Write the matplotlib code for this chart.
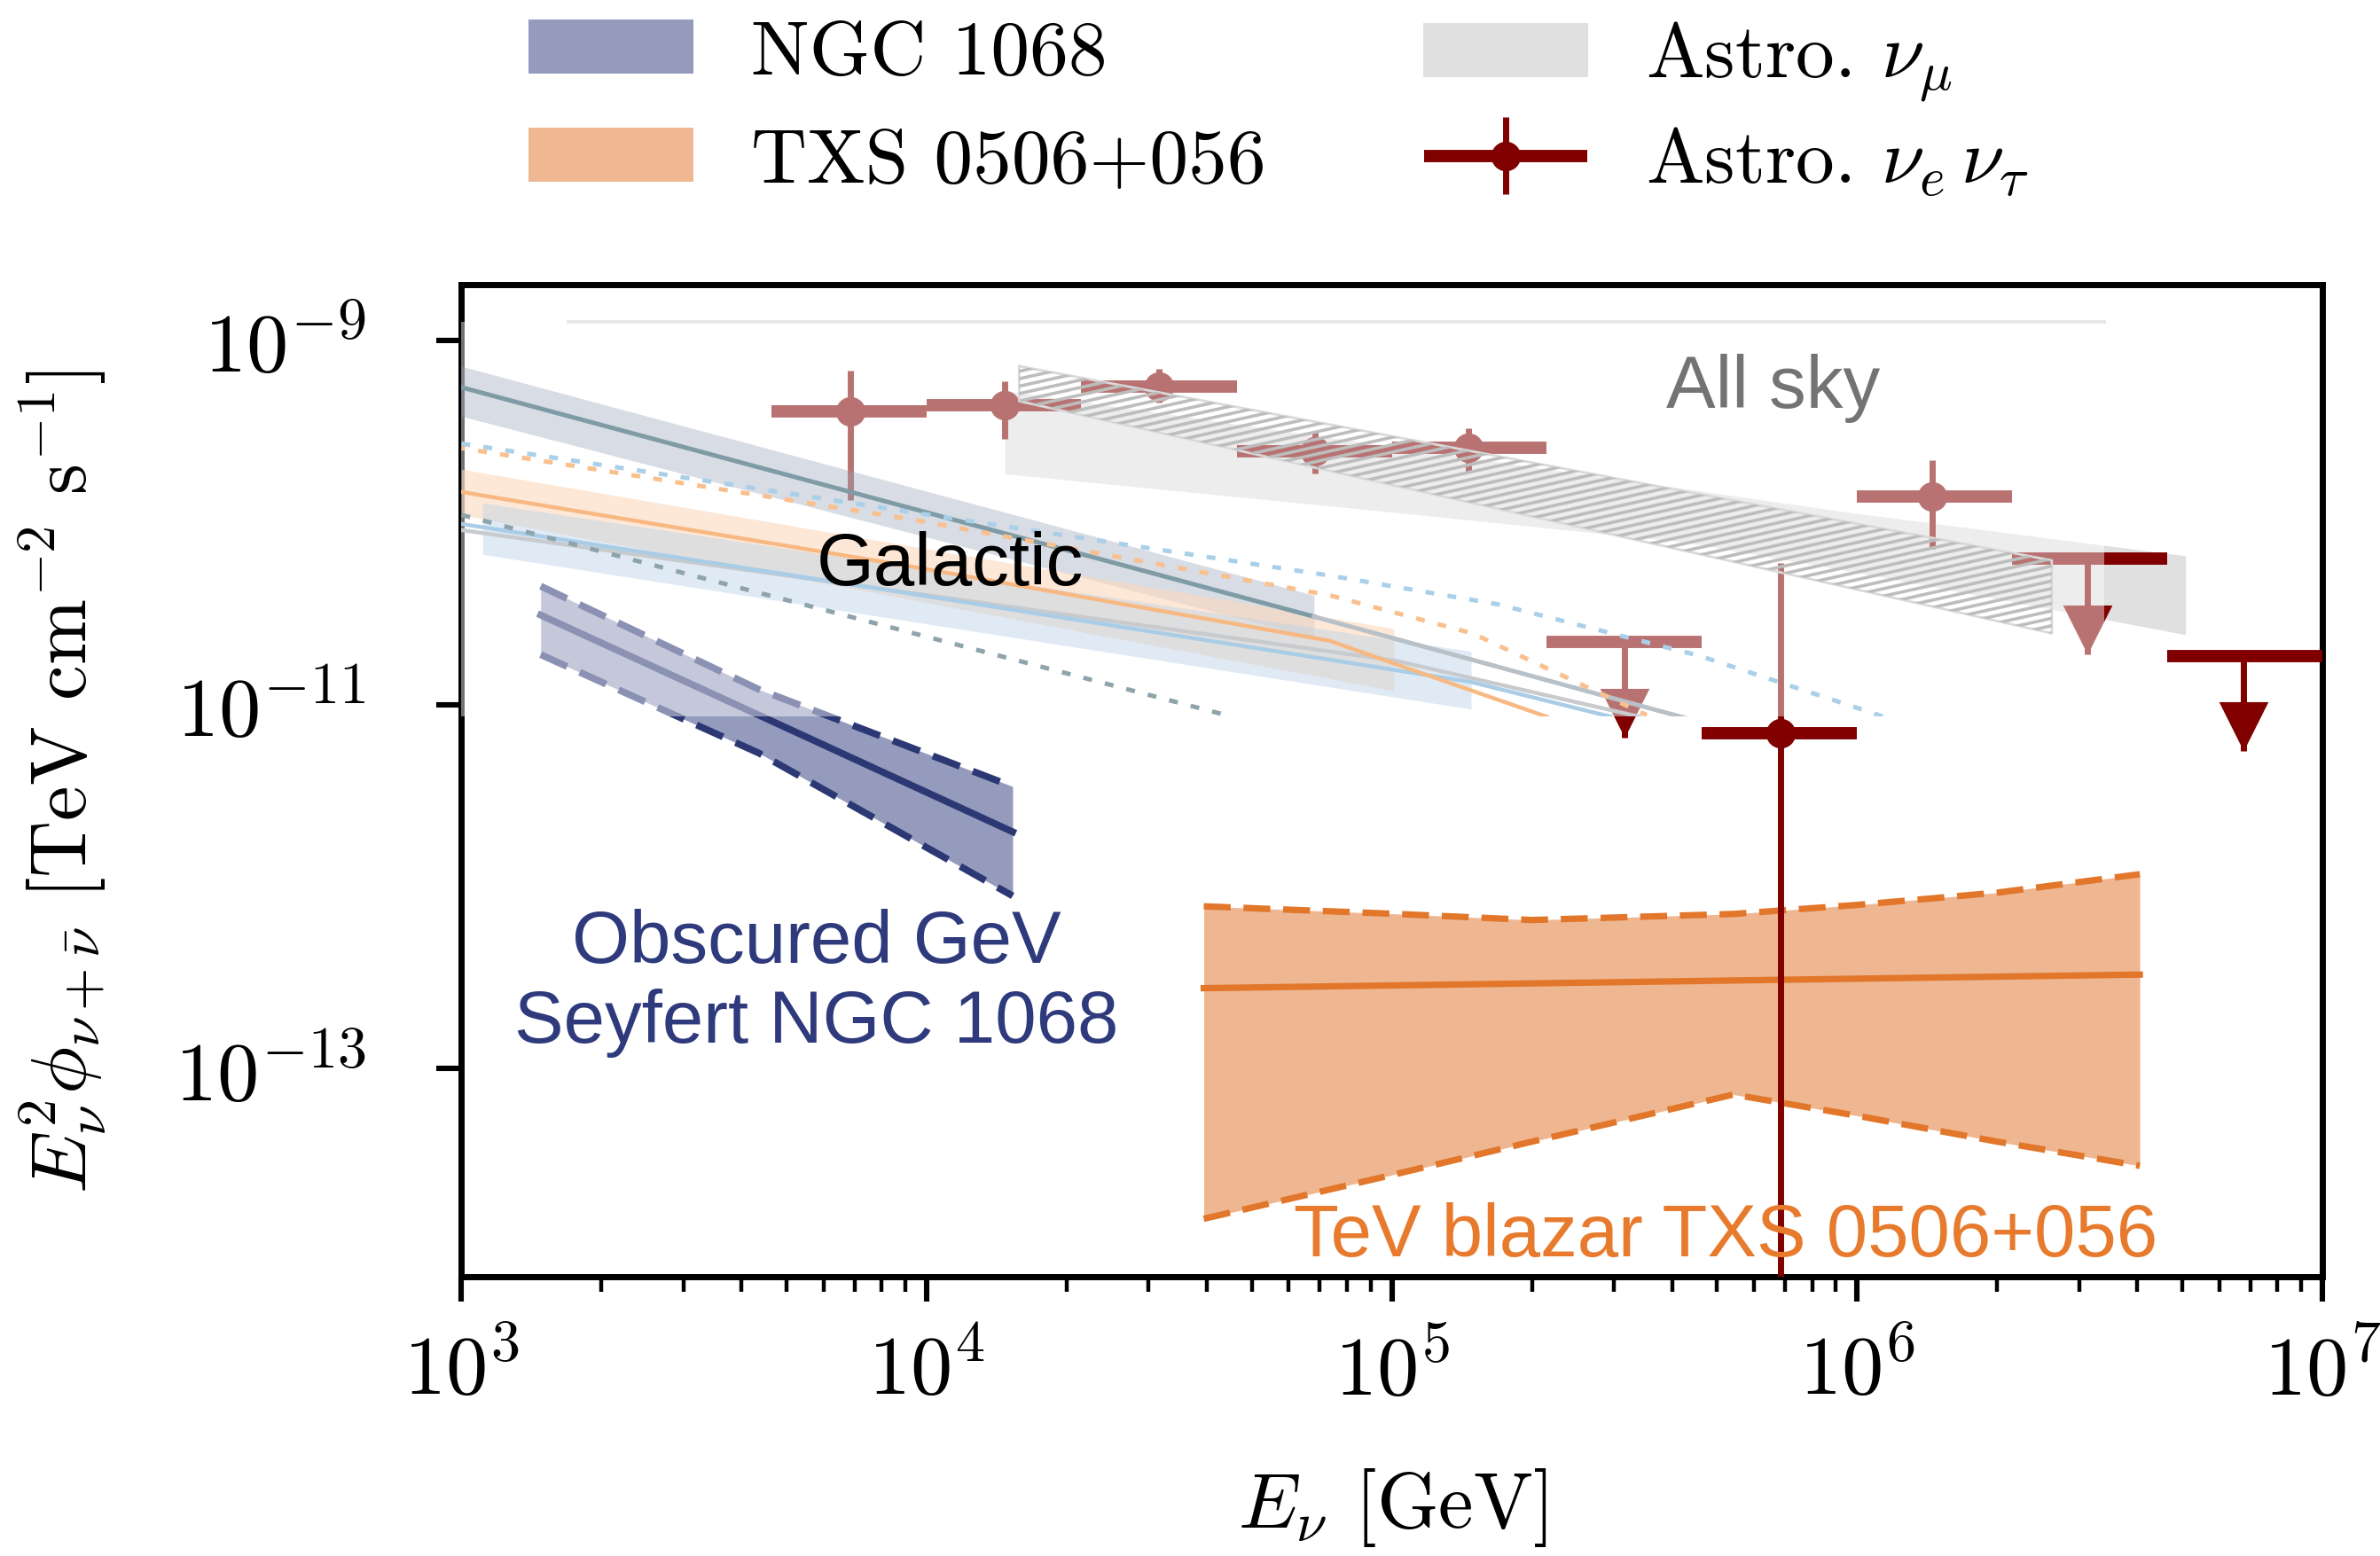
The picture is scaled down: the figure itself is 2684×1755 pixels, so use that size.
import numpy as np
import matplotlib
matplotlib.use('Agg')
import matplotlib.pyplot as plt
from matplotlib.patches import Patch, Rectangle
from matplotlib.collections import LineCollection
from matplotlib.legend_handler import HandlerErrorbar, HandlerTuple
from matplotlib.ticker import FixedLocator, LogLocator, NullFormatter

plt.rcParams['font.family'] = 'serif'
plt.rcParams['font.serif'] = ['cmr10']
plt.rcParams['mathtext.fontset'] = 'cm'
plt.rcParams['axes.formatter.use_mathtext'] = True
plt.rcParams['axes.unicode_minus'] = False

# ---- data ----
# Astro nu_e nu_tau: bin centre, bin edges, flux and 1 sigma range
casc_E = [6.84e3, 1.47e4, 3.15e4, 6.82e4, 1.46e5, 6.84e5, 1.45e6]
casc_Elo = [4.64e3, 1.0e4, 2.15e4, 4.64e4, 1.0e5, 4.64e5, 1.0e6]
casc_Ehi = [1.0e4, 2.15e4, 4.64e4, 1.0e5, 2.15e5, 1.0e6, 2.15e6]
casc_flux = [4.06e-10, 4.38e-10, 5.6e-10, 2.46e-10, 2.56e-10, 6.95e-12, 1.39e-10]
casc_lo = [1.33e-10, 2.87e-10, 4.55e-10, 1.85e-10, 1.88e-10, 1e-15, 7.2e-11]
casc_hi = [6.8e-10, 5.96e-10, 6.95e-10, 3.16e-10, 3.29e-10, 5.96e-11, 2.2e-10]
# upper limits
ul_E = [3.16e5, 3.12e6, 6.76e6]
ul_Elo = [2.15e5, 2.15e6, 4.64e6]
ul_Ehi = [4.64e5, 4.64e6, 1.0e7]
ul_flux = [2.2e-11, 6.3e-11, 1.85e-11]

# Astro nu_mu band
numu_E = [1.47e4, 1.0e5, 4.26e5, 1.0e6, 5.08e6]
numu_hi = [5.31e-10, 2.61e-10, 1.53e-10, 1.12e-10, 6.56e-11]
numu_lo = [1.85e-10, 1.14e-10, 7.8e-11, 5.31e-11, 2.42e-11]

# NGC 1068
ngc_E = [1.48e3, 4.36e3, 1.53e4]
ngc_hi = [4.47e-11, 1.21e-11, 3.55e-12]
ngc_best = [3.1e-11, 8.74e-12, 2.0e-12]
ngc_lo = [1.88e-11, 5.41e-12, 8.9e-13]

# TXS 0506+056
txs_E = [3.94e4, 1.0e5, 2.0e5, 5.42e5, 1.0e6, 2.0e6, 4.05e6]
txs_hi = [7.8e-13, 7.1e-13, 6.56e-13, 7.08e-13, 7.94e-13, 9.27e-13, 1.17e-12]
txs_lo = [1.5e-14, 2.61e-14, 3.98e-14, 7.22e-14, 5.52e-14, 3.98e-14, 2.93e-14]
txs_best_E = [3.94e4, 4.05e6]
txs_best = [2.77e-13, 3.29e-13]

# inset (galactic plane / all sky) curves
gal_band_E = [1e3, 6.8e4]
gal_band_hi = [7.2e-10, 3.98e-11]
gal_band_lo = [3.83e-10, 2.33e-11]
gal_line_E = [1e3, 6.8e4]
gal_line = [5.52e-10, 3.04e-11]
gal_tail_E = [6.8e4, 4.3e5]
gal_tail = [3.04e-11, 8.4e-12]

peach_band_E = [1e3, 1.01e5]
peach_band_hi = [1.96e-10, 2.61e-11]
peach_band_lo = [1.1e-10, 1.19e-11]
peach_line_E = [1e3, 9.25e3, 7.35e4, 1.01e5, 2.15e5]
peach_line = [1.47e-10, 5.73e-11, 2.24e-11, 1.68e-11, 8.58e-12]

blue_band_E = [1.11e3, 1.48e5]
blue_band_hi = [1.28e-10, 1.96e-11]
blue_band_lo = [6.68e-11, 9.44e-12]
blue_line_E = [1e3, 9.25e3, 1.48e5, 2.95e5]
blue_line = [9.81e-11, 4.06e-11, 1.33e-11, 8.58e-12]

grey_line_E = [1e3, 1.02e5, 3.4e5]
grey_line = [9.08e-11, 1.74e-11, 8.58e-12]

dark_dot_E = [1e3, 4.4e4]
dark_dot = [1.1e-10, 8.75e-12]
blue_dot_E = [1e3, 9.25e3, 7.35e4, 1.69e5, 4.59e5, 1.14e6]
blue_dot = [2.71e-10, 1.14e-10, 5.11e-11, 3.55e-11, 1.85e-11, 8.58e-12]
orange_dot_E = [1e3, 9.25e3, 7.35e4, 1.49e5, 3.53e5]
orange_dot = [2.56e-10, 1.04e-10, 3.98e-11, 2.46e-11, 8.75e-12]

allsky_E = [1.58e4, 2.62e6]
allsky_hi = [7.22e-10, 6.19e-11]
allsky_lo = [4.64e-10, 2.46e-11]

red = '#800000'
sans = ['Liberation Sans', 'DejaVu Sans']

fig = plt.figure(figsize=(13.42, 8.78), dpi=200)
ax = fig.add_axes([0.1939, 0.1793, 0.7819, 0.6375])
ax.set_xscale('log')
ax.set_yscale('log')
ax.set_xlim(1e3, 1e7)
ax.set_ylim(7.2e-15, 2.03e-9)

# main plot
ax.fill_between(numu_E, numu_lo, numu_hi, color='#e0e0e0', lw=0, zorder=1.5)

dash = (0, (4.2, 2))
ax.fill_between(ngc_E, ngc_lo, ngc_hi, color='#959bbd', lw=0, zorder=2)
ax.plot(ngc_E, ngc_best, color='#2c3873', lw=2.8, zorder=2.1)
ax.plot(ngc_E, ngc_hi, color='#2c3873', lw=2.8, ls=dash, zorder=2.1)
ax.plot(ngc_E, ngc_lo, color='#2c3873', lw=2.8, ls=dash, zorder=2.1)

ax.fill_between(txs_E, txs_lo, txs_hi, color='#eeb792', lw=0, zorder=2)
ax.plot(txs_best_E, txs_best, color='#e2762a', lw=2.6, zorder=2.1)
ax.plot(txs_E, txs_hi, color='#e2762a', lw=2.6, ls=dash, zorder=2.1)
ax.plot(txs_E, txs_lo, color='#e2762a', lw=2.6, ls=dash, zorder=2.1)

E = np.array(casc_E)
F = np.array(casc_flux)
cx = ax.errorbar(E, F, xerr=[E - np.array(casc_Elo), np.array(casc_Ehi) - E],
                 fmt='none', ecolor=red, elinewidth=5, zorder=3)
cy = ax.errorbar(E, F, yerr=[F - np.array(casc_lo), np.array(casc_hi) - F],
                 fmt='o', color=red, ms=11, elinewidth=2.5, zorder=3)

U = np.array(ul_E)
UF = np.array(ul_flux)
ax.errorbar(U, UF, xerr=[U - np.array(ul_Elo), np.array(ul_Ehi) - U],
            fmt='none', ecolor=red, elinewidth=5, zorder=3)
tip = UF * 0.3
ax.vlines(U, tip, UF, color=red, lw=2.5, zorder=3)
ax.plot(U, tip, ls='none', marker=[(-0.5, 1), (0.5, 1), (0, 0), (-0.5, 1)], ms=40,
        color=red, mew=0, zorder=3)

# faded inset pasted over the upper part
inset = Rectangle((1e3, 8.6e-12), 3.39e6 - 1e3, 1.26e-9 - 8.6e-12,
                  facecolor='white', edgecolor='none', alpha=0.45,
                  zorder=4, clip_on=False)
ax.add_patch(inset)
ax.plot([1.7e3, 3.39e6], [1.26e-9, 1.26e-9], color='#e8e8e8', lw=1.5, zorder=5)

pasted = []
pasted.append(ax.fill_between(gal_band_E, gal_band_lo, gal_band_hi, color='#9aa3b8',
                              alpha=0.38, lw=0, zorder=5))
pasted.append(ax.fill_between(peach_band_E, peach_band_lo, peach_band_hi, color='#fcd9bd',
                              alpha=0.6, lw=0, zorder=5))
pasted.append(ax.fill_between(blue_band_E, blue_band_lo, blue_band_hi, color='#bcd2ea',
                              alpha=0.45, lw=0, zorder=5))
pasted += ax.plot(gal_line_E, gal_line, color='#7e9ba6', lw=1.8, zorder=5.2)
pasted += ax.plot(gal_tail_E, gal_tail, color='#b8c0c8', lw=1.8, zorder=5.2)
pasted += ax.plot(grey_line_E, grey_line, color='#c8cbce', lw=1.6, zorder=5.1)
pasted += ax.plot(blue_line_E, blue_line, color='#a9cde6', lw=1.6, zorder=5.2)
pasted += ax.plot(peach_line_E, peach_line, color='#f8b882', lw=1.6, zorder=5.2)
pasted += ax.plot(dark_dot_E, dark_dot, color='#8ea3ab', lw=1.8, ls=(0, (2, 3)), zorder=5.2)
pasted += ax.plot(blue_dot_E, blue_dot, color='#a9d0e8', lw=1.8, ls=(0, (2, 3)), zorder=5.2)
pasted += ax.plot(orange_dot_E, orange_dot, color='#f9c08e', lw=1.8, ls=(1.2, (2, 3)), zorder=5.2)
for a in pasted:
    a.set_clip_path(inset)

sky = ax.fill_between(allsky_E, allsky_lo, allsky_hi, facecolor='none',
                      edgecolor='#dadada', lw=1, zorder=5.3)
segs = [[(k * 0.018, 0), (k * 0.018 + 2.4, 1)] for k in range(-150, 60)]
hatch = LineCollection(segs, colors='#bdbdbd', linewidths=1.3,
                       transform=ax.transAxes, zorder=5.3)
ax.add_collection(hatch)
hatch.set_clip_path(sky.get_paths()[0], ax.transData)

# labels inside the plot
ax.text(1.12e4, 5.84e-11, 'Galactic', family=sans, fontsize=30, color='black',
        ha='center', va='center', zorder=6)
ax.text(6.6e5, 5.52e-10, 'All sky', family=sans, fontsize=30, color='#737373',
        ha='center', va='center', zorder=6)
ax.text(5.8e3, 2.98e-13, 'Obscured GeV\nSeyfert NGC 1068', family=sans, fontsize=30,
        color='#2e3a7c', ha='center', va='center', linespacing=1.2, zorder=6)
ax.text(5.22e5, 1.21e-14, 'TeV blazar TXS 0506+056', family=sans, fontsize=30,
        color='#e77a2c', ha='center', va='center', zorder=6)

# axes styling
ax.yaxis.set_major_locator(FixedLocator([1e-9, 1e-11, 1e-13]))
ax.yaxis.set_minor_locator(FixedLocator([]))
ax.xaxis.set_major_locator(LogLocator(base=10, numticks=10))
ax.xaxis.set_minor_locator(LogLocator(base=10, subs=np.arange(2, 10), numticks=100))
ax.xaxis.set_minor_formatter(NullFormatter())
ax.tick_params(which='major', direction='out', length=10, width=2.2, labelsize=34,
               top=False, right=False)
ax.tick_params(axis='x', which='major', pad=12)
ax.tick_params(axis='y', which='major', pad=29)
ax.tick_params(which='minor', direction='out', length=6, width=1.6, top=False, right=False)
for s in ax.spines.values():
    s.set_linewidth(2.5)

ax.set_xlabel(r'$E_\nu$ [GeV]', fontsize=32)
ax.set_ylabel(r'$E_\nu^2\phi_{\nu+\bar{\nu}}$ [TeV cm$^{-2}$ s$^{-1}$]', fontsize=32)
ax.xaxis.set_label_coords(0.5, -0.19)
ax.yaxis.set_label_coords(-0.19, 0.5)

# legend: two single-column legends so the rows line up
leg_kw = dict(loc='upper left', frameon=False, fontsize=31.5, borderpad=0,
              borderaxespad=0, handlelength=2.13, handleheight=0.7,
              handletextpad=0.74)
fig.legend([Patch(facecolor='#959bbd'), Patch(facecolor='#efb892')],
           ['NGC 1068', 'TXS 0506+056'], bbox_to_anchor=(0.222, 0.987),
           labelspacing=0.5, **leg_kw)
fig.legend([Patch(facecolor='#e0e0e0'), (cx, cy)],
           [r'Astro. $\nu_\mu$', r'Astro. $\nu_e\,\nu_\tau$'],
           bbox_to_anchor=(0.598, 0.987), labelspacing=0.27,
           handler_map={cx: HandlerErrorbar(xerr_size=1.05),
                        cy: HandlerErrorbar(xerr_size=0.5, yerr_size=0.5),
                        tuple: HandlerTuple(ndivide=1)}, **leg_kw)

fig.savefig('out.png', dpi=200)
